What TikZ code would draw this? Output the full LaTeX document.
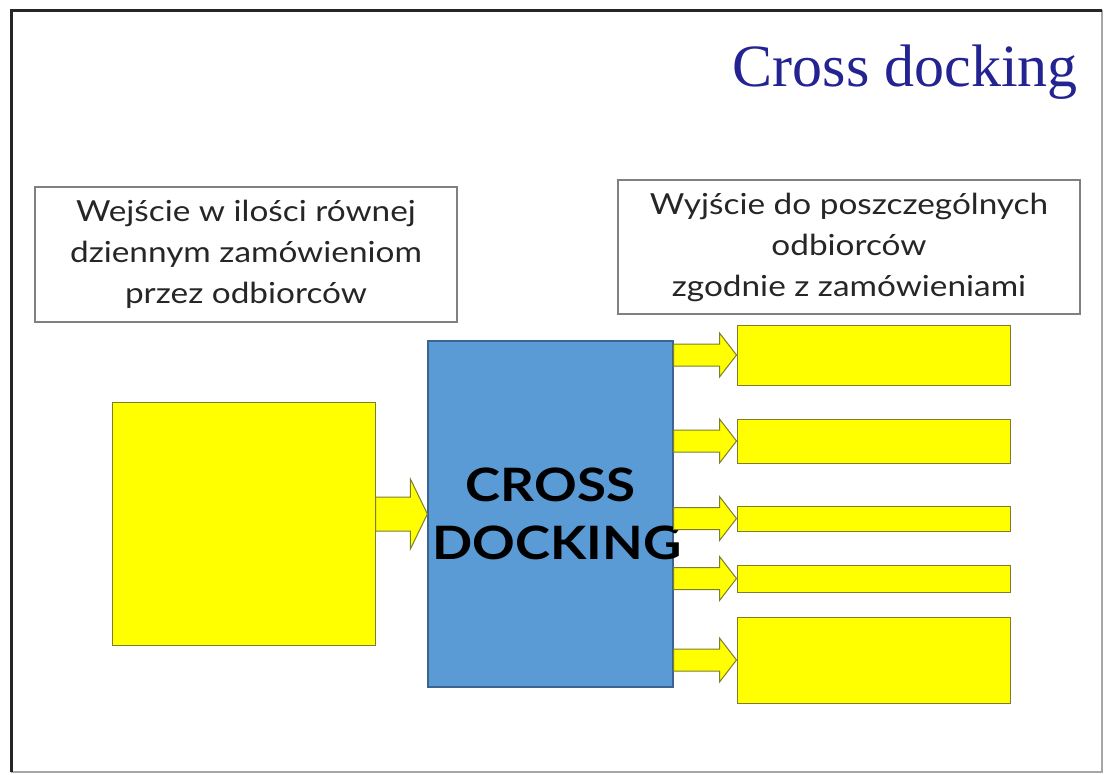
\documentclass[tikz,border=0pt]{standalone}
\usepackage{fontspec}
\setmainfont{Liberation Serif}
\newfontfamily\gill{Lato}[FakeStretch=1.15]
\usetikzlibrary{calc}
\definecolor{titleblue}{RGB}{35,35,145}
\definecolor{dockblue}{RGB}{91,155,213}
\definecolor{dockedge}{RGB}{60,100,145}
\definecolor{boxyellow}{RGB}{255,255,0}
\definecolor{yellowedge}{RGB}{125,125,45}
\tikzset{
textbox/.style={draw=gray, line width=1.2pt, align=center, inner sep=0, text=black!85, font=\gill\fontsize{29}{41}\selectfont},
inbox/.style={draw=yellowedge, fill=boxyellow, line width=1pt, inner sep=0},
outbox/.style={inbox, minimum width=273pt},
dock/.style={draw=dockedge, fill=dockblue, line width=1.2pt, inner sep=0, text width=236pt, minimum width=245pt, minimum height=346pt, align=center, font=\gill\bfseries\fontsize{46}{58}\selectfont},
flowarrow/.style={draw=yellowedge, fill=boxyellow, line width=1pt, line join=miter}}
% block arrow: from #1 to #2, shaft and head half heights #3, #4
\newcommand{\flow}[4]{%
  \draw[flowarrow] let \p1=(#1), \p2=(#2) in
    (\x1,\y2+#3) -- (\x2-17pt,\y2+#3) -- (\x2-17pt,\y2+#4) -- (\x2,\y2)
    -- (\x2-17pt,\y2-#4) -- (\x2-17pt,\y2-#3) -- (\x1,\y2-#3) -- cycle;}

\begin{document}
\begin{tikzpicture}[x=1pt, y=-1pt]
\useasboundingbox (0,0) rectangle (1107,774);
% frame
\draw[gray!70, line width=1.5pt] (1102,10) -- (1102,772) -- (11,772);
\draw[black!85, line width=3pt] (11,772) -- (11,10) -- (1102,10);

\node[anchor=base east, inner sep=0, text=titleblue, font=\fontsize{60}{62}\selectfont] (title) at (1078,86) {Cross docking};

\node[textbox, minimum width=422pt, minimum height=135pt] (intext) at (246,254.5)
  {Wejście w ilości równej\\dziennym zamówieniom\\przez odbiorców};
\node[textbox, minimum width=462pt, minimum height=134pt] (outtext) at (849,247)
  {Wyjście do poszczególnych\\odbiorców\\zgodnie z zamówieniami};

\node[inbox, minimum width=263pt, minimum height=243pt] (load) at (243.5,523.5) {};
\node[dock] (dock) at (550.5,514) {CROSS\\DOCKING};
\flow{load.east}{dock.west}{17pt}{35pt}

\foreach \cy/\h [count=\i] in {355/60, 441/44, 518.5/25, 578.5/27, 660/86}{
  \node[outbox, minimum height=\h pt] (out-\i) at (873.5,\cy) {};
  \flow{dock.east}{out-\i.west}{11pt}{22pt}
}
\end{tikzpicture}
\end{document}
